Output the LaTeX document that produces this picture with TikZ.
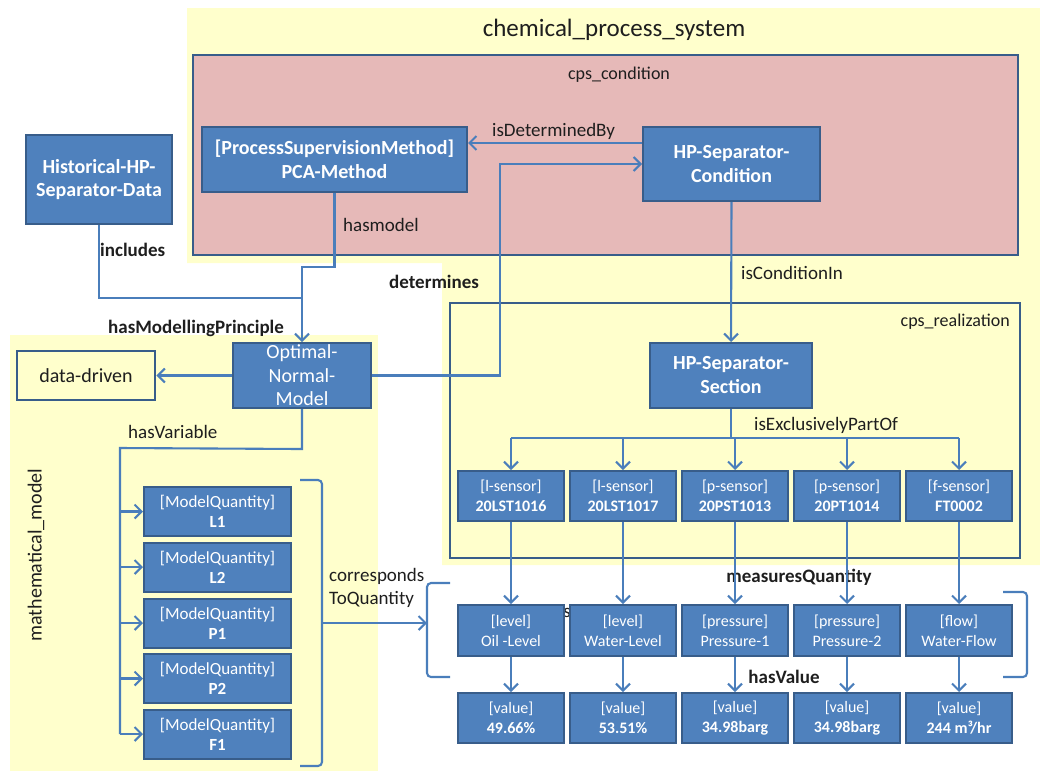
\documentclass[tikz,border=0pt]{standalone}
\usepackage{fontspec}
\setmainfont{Carlito}
\usetikzlibrary{arrows.meta}
\definecolor{nodeblue}{HTML}{4F81BD}
\definecolor{nodeedge}{HTML}{385D8A}
\definecolor{linkblue}{HTML}{4A7EBB}
\definecolor{condpink}{HTML}{E6B9B8}
\definecolor{areayellow}{HTML}{FFFFCC}
\definecolor{labelink}{HTML}{1E1E1E}

\tikzset{
  bnode/.style={draw=nodeedge, fill=nodeblue, line width=2pt, text=white,
    align=center, inner sep=0pt, font=\fontsize{20}{24}\selectfont},
  snode/.style={bnode, minimum width=106pt, minimum height=50pt,
    font=\fontsize{16}{20}\selectfont},
  mqnode/.style={bnode, minimum width=147pt, minimum height=49pt,
    font=\fontsize{17}{20}\selectfont},
  conn/.style={draw=linkblue, line width=2.1pt},
  arr/.style={conn, -{Straight Barb[length=7pt,width=14pt]}},
  rel/.style={text=labelink, inner sep=0pt, anchor=west,
    font=\fontsize{19}{23}\selectfont},
  relb/.style={rel, font=\fontsize{19}{23}\selectfont\bfseries},
  area/.style={draw=nodeedge, line width=2.8pt},
  areatitle/.style={text=labelink, inner sep=0pt, font=\fontsize{18}{22}\selectfont},
}

\begin{document}
\begin{tikzpicture}[x=1pt,y=-1pt]
\useasboundingbox (0,0) rectangle (1040,772);

% container areas
\fill[areayellow] (187,8) -- (1040,8) -- (1040,565) -- (442,565) -- (442,263)
  -- (187,263) -- cycle;
\fill[areayellow] (10,335) rectangle (378,771);
\draw[area, fill=condpink] (193,55) rectangle (1018,255);
\draw[area] (450,303) rectangle (1020,558);

% area titles
\node[text=labelink, inner sep=0pt, font=\fontsize{25}{30}\selectfont]
  (cpsTitle) at (614,30) {chemical\_process\_system};
\node[areatitle] (condTitle) at (619,75) {cps\_condition};
\node[areatitle, anchor=east] (realTitle) at (1010,322) {cps\_realization};
\node[text=labelink, inner sep=0pt, font=\fontsize{20}{24}\selectfont, rotate=90]
  (mathTitle) at (36,555) {mathematical\_model};

% relation labels
\node[rel] (lDet) at (492,131) {isDeterminedBy};
\node[rel] (lModel) at (343,225) {hasmodel};
\node[relb] (lIncl) at (100,250) {includes};
\node[relb] (lDetm) at (389,282) {determines};
\node[rel] (lCond) at (741,273) {isConditionIn};
\node[relb] (lPrinc) at (108,328) {hasModellingPrinciple};
\node[rel] (lVar) at (128,432) {hasVariable};
\node[rel] (lPart) at (754,425) {isExclusivelyPartOf};
\node[rel, align=left] (lCorr) at (329,588) {corresponds\\ToQuantity};
\node[relb, anchor=center] (lMeas) at (799,577) {measuresQuantity};
\node[relb, anchor=center] (lVal) at (784,677) {hasValue};
\node[rel, anchor=center] (lStray) at (567,613) {s};

% upper nodes
\node[bnode, font=\fontsize{20}{23}\selectfont\bfseries, minimum width=146pt,
  minimum height=89pt] (hist) at (99,179.5) {Historical-HP-\\Separator-Data};
\node[bnode, font=\fontsize{20}{24}\selectfont\bfseries, minimum width=265pt,
  minimum height=65pt] (pca) at (334.5,159.5) {[ProcessSupervisionMethod]\\PCA-Method};
\node[bnode, font=\fontsize{20}{24}\selectfont\bfseries, minimum width=177pt,
  minimum height=74pt] (cond) at (731.5,164) {HP-Separator-\\Condition};
\node[bnode, minimum width=138pt, minimum height=65pt] (opt) at (302,375.5) {};
\node[text=white, align=center, inner sep=0pt, font=\fontsize{20}{23.5}\selectfont]
  (optText) at (opt.center) {Optimal-\\Normal-\\Model};
\node[draw=nodeedge, line width=2.6pt, minimum width=138pt, minimum height=49pt,
  inner sep=0pt, text=labelink, font=\fontsize{20}{24}\selectfont]
  (dd) at (86,375.5) {data-driven};
\node[bnode, font=\fontsize{20}{24}\selectfont\bfseries, minimum width=162pt,
  minimum height=65pt] (sec) at (731,375.5) {HP-Separator-\\Section};

% model quantities
\foreach \m/\y in {L1/511.5, L2/567, P1/623, P2/678.5, F1/734}
  \node[mqnode] (mq\m) at (217.5,\y) {[ModelQuantity]\\\textbf{\m}};

% sensors, measured quantities and values
\foreach \i/\x/\t/\n in {1/511/l-sensor/20LST1016, 2/623/l-sensor/20LST1017,
    3/735/p-sensor/20PST1013, 4/847/p-sensor/20PT1014, 5/959/f-sensor/FT0002}
  \node[snode] (s\i) at (\x,496) {[\t]\\\textbf{\n}};
\foreach \i/\x/\t/\n in {1/511/level/Oil -Level, 2/623/level/Water-Level,
    3/735/pressure/Pressure-1, 4/847/pressure/Pressure-2, 5/959/flow/Water-Flow}
  \node[snode, minimum height=51pt] (q\i) at (\x,630.5) {[\t]\\\n};
\foreach \i/\x/\n in {1/511/49.66\%, 2/623/53.51\%, 3/735/34.98barg,
    4/847/34.98barg, 5/959/{244 m³/hr}}
  \node[snode] (v\i) at (\x,718) {[value]\\\textbf{\n}};

% connectors in the upper part
\coordinate (merge) at (303,298);
\draw[conn] (hist.south) |- (merge);
\draw[arr] (pca.south) -- ++(0,74) -| (opt.north);
\draw[arr] (cond.west |- 0,143) -- (pca.east |- 0,143);
\draw[arr] (opt.east) -- (500,375.5) -- (500,164) -- (cond.west);
\draw[arr] (cond.south) -- (sec.north);
\draw[arr] (opt.west) -- (dd.east);

% hasVariable bus
\draw[conn] (opt.south) -- ++(0,40) -- (120,448) -- (120,734);
\foreach \m in {L1,L2,P1,P2,F1}
  \draw[arr] (mq\m.west -| 120,0) -- (mq\m.west);

% isExclusivelyPartOf bus
\draw[conn] (sec.south) -- (731,438);
\draw[conn] (511,438) -- (959,438);
\foreach \i in {1,...,5} {
  \draw[arr] (s\i.north |- 0,438) -- (s\i.north);
  \draw[arr] (s\i.south) -- (q\i.north);
  \draw[arr] (q\i.south) -- (v\i.north);
}

% brackets grouping the quantities
\draw[conn, rounded corners=4pt] (300,480) -- (322,480) -- (322,766) -- (300,766);
\draw[conn, rounded corners=4pt] (450,583) -- (427,583) -- (427,677) -- (450,677);
\draw[conn, rounded corners=4pt] (1003,592) -- (1027,592) -- (1027,677) -- (1003,677);
\coordinate (brOut) at (322,623);
\coordinate (brIn) at (427,623);
\draw[arr] (brOut) -- (brIn);

\end{tikzpicture}
\end{document}
